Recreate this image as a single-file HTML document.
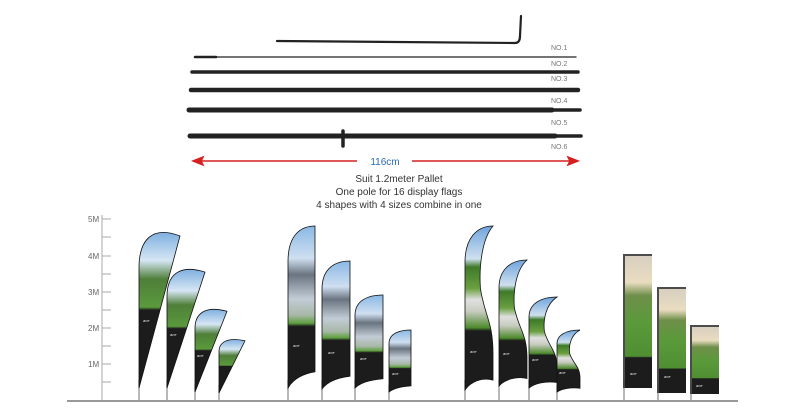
<!DOCTYPE html>
<html><head><meta charset="utf-8"><style>
html,body{margin:0;padding:0;background:#fff;width:800px;height:410px;overflow:hidden}
svg{display:block}
text{font-family:"Liberation Sans",sans-serif}
</style></head><body>
<svg width="800" height="410" viewBox="0 0 800 410" xmlns="http://www.w3.org/2000/svg">
<defs>
<linearGradient id="gT" x1="0" y1="0" x2="0" y2="1">
<stop offset="0" stop-color="#7fb0e0"/><stop offset="0.18" stop-color="#d6e6f4"/><stop offset="0.3" stop-color="#4f7f3a"/><stop offset="0.48" stop-color="#5a9a3c"/><stop offset="0.5" stop-color="#1c1c1c"/><stop offset="1" stop-color="#1c1c1c"/>
</linearGradient>
<linearGradient id="gF" x1="0" y1="0" x2="0" y2="1">
<stop offset="0" stop-color="#8ab8e4"/><stop offset="0.2" stop-color="#cfdff0"/><stop offset="0.3" stop-color="#6a7480"/><stop offset="0.45" stop-color="#c2ccd6"/><stop offset="0.55" stop-color="#a8b8a8"/><stop offset="0.6" stop-color="#5fa040"/><stop offset="0.62" stop-color="#1c1c1c"/><stop offset="1" stop-color="#1c1c1c"/>
</linearGradient>
<linearGradient id="gC" x1="0" y1="0" x2="0" y2="1">
<stop offset="0" stop-color="#6fa4dc"/><stop offset="0.2" stop-color="#cfe0ef"/><stop offset="0.25" stop-color="#3f7a2a"/><stop offset="0.38" stop-color="#6aa040"/><stop offset="0.45" stop-color="#e0e0e0"/><stop offset="0.52" stop-color="#c8ccc0"/><stop offset="0.62" stop-color="#4d8a2c"/><stop offset="0.64" stop-color="#1c1c1c"/><stop offset="1" stop-color="#1c1c1c"/>
</linearGradient>
<linearGradient id="gR" x1="0" y1="0" x2="0" y2="1">
<stop offset="0" stop-color="#d8cfc0"/><stop offset="0.2" stop-color="#e9dcc0"/><stop offset="0.3" stop-color="#6f8f4a"/><stop offset="0.5" stop-color="#5a9a3a"/><stop offset="0.76" stop-color="#4f8f32"/><stop offset="0.77" stop-color="#1c1c1c"/><stop offset="1" stop-color="#1c1c1c"/>
</linearGradient>
</defs>

<g stroke="#222" fill="none" stroke-linecap="round">
<path d="M277,41 L515,43 Q520,43 520,36 L521,16" stroke-width="2.2"/>
<line x1="195" y1="57" x2="576" y2="57" stroke-width="1.3"/>
<line x1="195" y1="57" x2="216" y2="57" stroke-width="2.5"/>
<line x1="192" y1="72" x2="578" y2="72" stroke-width="3.5"/>
<line x1="191" y1="90" x2="578" y2="90" stroke-width="4.5"/>
<line x1="189" y1="110" x2="552" y2="110" stroke-width="5"/>
<line x1="552" y1="110" x2="580" y2="110" stroke-width="3.5"/>
<line x1="190" y1="136" x2="555" y2="136" stroke-width="5"/>
<line x1="555" y1="136" x2="581" y2="136" stroke-width="3.5"/>
<line x1="343" y1="131" x2="343" y2="146" stroke-width="3.5"/>
</g>
<g font-size="7" fill="#777">
<text x="551" y="50">NO.1</text><text x="551" y="66">NO.2</text><text x="551" y="81">NO.3</text>
<text x="551" y="103">NO.4</text><text x="551" y="125">NO.5</text><text x="551" y="149">NO.6</text>
</g>
<g stroke="#d62020" stroke-width="1.5" fill="#d62020">
<line x1="198" y1="161" x2="357" y2="161"/><line x1="412" y1="161" x2="572" y2="161"/>
<path d="M193,161 L203,157 L201,161 L203,165Z"/><path d="M578,161 L568,157 L570,161 L568,165Z"/>
</g>
<text x="385" y="165" font-size="10" fill="#2a6ab8" text-anchor="middle">116cm</text>
<g font-size="10" fill="#333" text-anchor="middle">
<text x="399" y="182">Suit 1.2meter Pallet</text>
<text x="399" y="195">One pole for 16 display flags</text>
<text x="399" y="208">4 shapes with 4 sizes combine in one</text>
</g>

<g stroke="#aaa" stroke-width="1">
<line x1="102" y1="215" x2="102" y2="400"/>
<line x1="102" y1="219" x2="111" y2="219"/><line x1="102" y1="237" x2="111" y2="237"/>
<line x1="102" y1="256" x2="111" y2="256"/><line x1="102" y1="274" x2="111" y2="274"/>
<line x1="102" y1="292" x2="111" y2="292"/><line x1="102" y1="310" x2="111" y2="310"/>
<line x1="102" y1="328" x2="111" y2="328"/><line x1="102" y1="346" x2="111" y2="346"/>
<line x1="102" y1="364" x2="111" y2="364"/><line x1="102" y1="382" x2="111" y2="382"/>
</g>
<line x1="67" y1="401" x2="738" y2="401" stroke="#999" stroke-width="2"/>
<g font-size="8" fill="#666">
<text x="88" y="222">5M</text><text x="88" y="259">4M</text><text x="88" y="295">3M</text><text x="88" y="331">2M</text><text x="88" y="367">1M</text>
</g>

<g stroke="#888" stroke-width="1.2">
<line x1="139" y1="380" x2="139" y2="400"/><line x1="167" y1="380" x2="167" y2="400"/><line x1="195" y1="385" x2="195" y2="400"/><line x1="219" y1="385" x2="219" y2="400"/>
<line x1="288" y1="380" x2="288" y2="400"/><line x1="322" y1="380" x2="322" y2="400"/><line x1="355" y1="380" x2="355" y2="400"/><line x1="389" y1="385" x2="389" y2="400"/>
<line x1="465" y1="380" x2="465" y2="400"/><line x1="499" y1="380" x2="499" y2="400"/><line x1="529" y1="380" x2="529" y2="400"/><line x1="557" y1="385" x2="557" y2="400"/>
<line x1="624" y1="380" x2="624" y2="400"/><line x1="658" y1="385" x2="658" y2="400"/><line x1="691" y1="385" x2="691" y2="400"/>
</g>

<g fill="url(#gT)" stroke="#111" stroke-width="0.8">
<path transform="translate(139,228) scale(0.41,1.6)" d="M0,100 L0,25 C0,8 30,-2 100,5 L0,100Z" vector-effect="non-scaling-stroke"/>
<path transform="translate(167,266) scale(0.38,1.22)" d="M0,100 L0,25 C0,8 30,-2 100,5 L0,100Z" vector-effect="non-scaling-stroke"/>
<path transform="translate(195,307) scale(0.32,0.85)" d="M0,100 L0,25 C0,8 30,-2 100,5 L0,100Z" vector-effect="non-scaling-stroke"/>
<path transform="translate(219,338) scale(0.26,0.55)" d="M0,100 L0,25 C0,8 30,-2 100,5 L0,100Z" vector-effect="non-scaling-stroke"/>
</g>
<g fill="url(#gF)" stroke="#111" stroke-width="0.8">
<path transform="translate(288,226) scale(0.27,1.62)" d="M0,100 L0,22 C0,5 50,0 100,0 L100,90 C60,91 20,94 0,100Z" vector-effect="non-scaling-stroke"/>
<path transform="translate(322,261) scale(0.28,1.28)" d="M0,100 L0,22 C0,5 50,0 100,0 L100,90 C60,91 20,94 0,100Z" vector-effect="non-scaling-stroke"/>
<path transform="translate(355,295) scale(0.28,0.93)" d="M0,100 L0,22 C0,5 50,0 100,0 L100,90 C60,91 20,94 0,100Z" vector-effect="non-scaling-stroke"/>
<path transform="translate(389,330) scale(0.22,0.62)" d="M0,100 L0,22 C0,5 50,0 100,0 L100,90 C60,91 20,94 0,100Z" vector-effect="non-scaling-stroke"/>
</g>
<g fill="url(#gC)" stroke="#111" stroke-width="0.8">
<path transform="translate(465,226) scale(0.28,1.64)" d="M0,100 L0,22 C0,8 40,0 100,0 C60,8 50,25 55,38 C70,55 100,58 100,78 L100,94 C60,92 20,95 0,100Z" vector-effect="non-scaling-stroke"/>
<path transform="translate(499,260) scale(0.28,1.26)" d="M0,100 L0,22 C0,8 40,0 100,0 C60,8 50,25 55,38 C70,55 100,58 100,78 L100,94 C60,92 20,95 0,100Z" vector-effect="non-scaling-stroke"/>
<path transform="translate(529,297) scale(0.28,0.91)" d="M0,100 L0,22 C0,8 40,0 100,0 C60,8 50,25 55,38 C70,55 100,58 100,78 L100,94 C60,92 20,95 0,100Z" vector-effect="non-scaling-stroke"/>
<path transform="translate(557,330) scale(0.23,0.62)" d="M0,100 L0,22 C0,8 40,0 100,0 C60,8 50,25 55,38 C70,55 100,58 100,78 L100,94 C60,92 20,95 0,100Z" vector-effect="non-scaling-stroke"/>
</g>
<g fill="url(#gR)">
<rect x="625" y="256" width="27" height="132"/>
<rect x="659" y="289" width="27" height="104"/>
<rect x="692" y="327" width="27" height="67"/>
</g>
<g stroke="#111" stroke-width="1.5">
<line x1="623" y1="255" x2="652" y2="255"/><line x1="624" y1="256" x2="624" y2="388"/>
<line x1="657" y1="288" x2="686" y2="288"/><line x1="658" y1="289" x2="658" y2="393"/>
<line x1="690" y1="326" x2="719" y2="326"/><line x1="691" y1="327" x2="691" y2="394"/>
</g>
<g fill="#e6e6e6" font-size="4" font-style="italic">
<text x="143" y="322">ace</text><text x="170" y="336">ace</text><text x="197" y="357">ace</text>
<text x="293" y="347">ace</text><text x="328" y="354">ace</text><text x="360" y="360">ace</text><text x="392" y="375">ace</text>
<text x="470" y="353">ace</text><text x="503" y="355">ace</text><text x="532" y="361">ace</text><text x="559" y="374">ace</text>
<text x="630" y="375">ace</text><text x="664" y="378">ace</text><text x="696" y="387">ace</text>
</g>
</svg>
</body></html>
